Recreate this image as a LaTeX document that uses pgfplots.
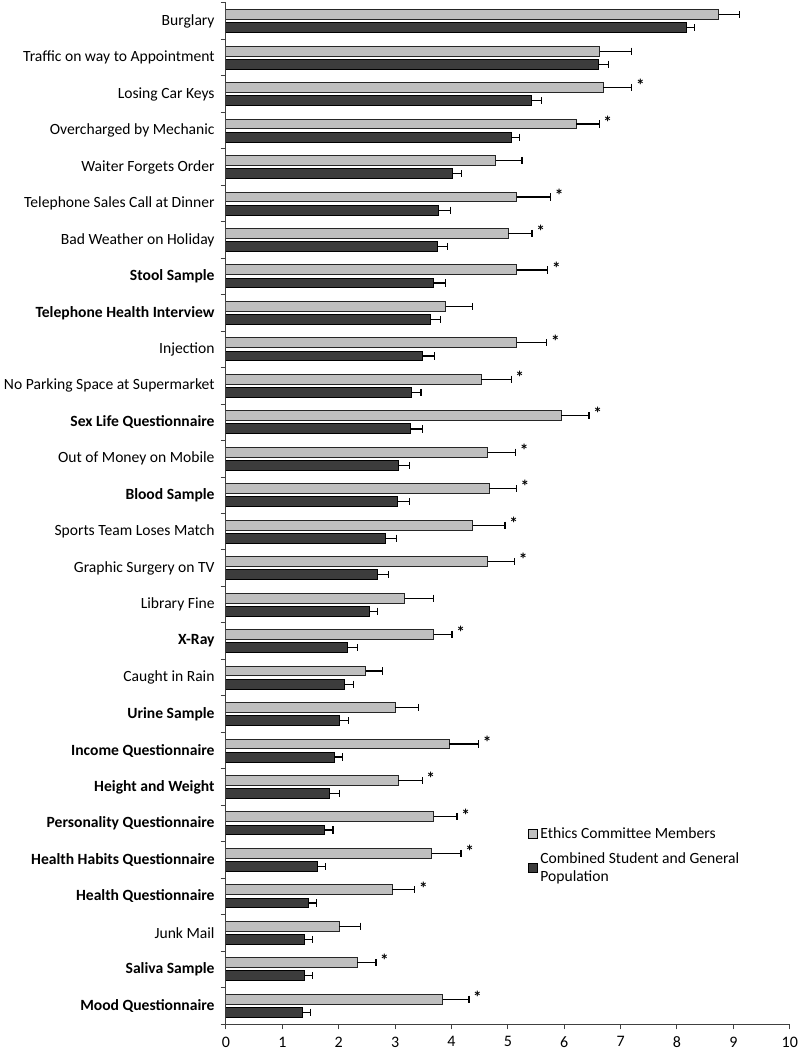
\documentclass[border=0pt]{standalone}
\usepackage{pgfplots}
\usepackage{pgfplotstable}
\usepackage{fontspec}
\setmainfont{Carlito}
\pgfplotsset{compat=1.18}

\definecolor{ethics}{HTML}{BFBFBF}
\definecolor{public}{HTML}{3C3C3C}
\definecolor{axisgray}{HTML}{404040}

% y: 0 = bottom category (Mood Questionnaire), 27 = Burglary
% s = 1 where an asterisk is printed
\pgfplotstableread{
y light lerr s dark derr
27 8.74 0.37 0 8.17 0.14
26 6.63 0.56 0 6.60 0.19
25 6.69 0.51 1 5.42 0.17
24 6.21 0.41 1 5.06 0.14
23 4.79 0.46 0 4.01 0.17
22 5.16 0.60 1 3.77 0.21
21 5.01 0.42 1 3.75 0.18
20 5.16 0.55 1 3.68 0.21
19 3.90 0.48 0 3.63 0.18
18 5.16 0.53 1 3.49 0.21
17 4.53 0.53 1 3.29 0.17
16 5.95 0.49 1 3.27 0.21
15 4.64 0.50 1 3.06 0.20
14 4.67 0.48 1 3.04 0.22
13 4.38 0.57 1 2.83 0.19
12 4.64 0.48 1 2.68 0.21
11 3.17 0.51 0 2.54 0.15
10 3.69 0.32 1 2.16 0.17
9  2.48 0.29 0 2.11 0.15
8  3.00 0.41 0 2.02 0.16
7  3.96 0.52 1 1.93 0.14
6  3.06 0.42 1 1.84 0.17
5  3.69 0.41 1 1.74 0.16
4  3.65 0.52 1 1.62 0.14
3  2.95 0.40 1 1.47 0.13
2  2.01 0.38 0 1.40 0.14
1  2.33 0.33 1 1.40 0.13
0  3.85 0.46 1 1.36 0.14
}\data

\newcommand\lbl{\fontsize{11.7}{14}\selectfont}

\begin{document}
\begin{tikzpicture}
\begin{axis}[
    name=ax,
    scale only axis,
    width=423pt, height=766pt,
    xmin=0, xmax=10, ymin=-0.5, ymax=27.5,
    axis x line*=bottom, axis y line*=left,
    axis line style={-, axisgray, line width=0.75pt},
    tick align=outside,
    tick style={axisgray, line width=0.75pt},
    major tick length=4pt,
    xtick={0,1,...,10},
    ytick={-0.5,0.5,...,27.5},
    yticklabels={},
    extra y ticks={0,1,...,27},
    extra y tick labels={
        \textbf{Mood Questionnaire}, \textbf{Saliva Sample}, Junk Mail,
        \textbf{Health Questionnaire}, \textbf{Health Habits Questionnaire},
        \textbf{Personality Questionnaire}, \textbf{Height and Weight},
        \textbf{Income Questionnaire}, \textbf{Urine Sample}, Caught in Rain,
        \textbf{X-Ray}, Library Fine, Graphic Surgery on TV,
        Sports Team Loses Match, \textbf{Blood Sample}, Out of Money on Mobile,
        \textbf{Sex Life Questionnaire}, No Parking Space at Supermarket,
        Injection, \textbf{Telephone Health Interview}, \textbf{Stool Sample},
        Bad Weather on Holiday, Telephone Sales Call at Dinner,
        Waiter Forgets Order, Overcharged by Mechanic, Losing Car Keys,
        Traffic on way to Appointment, Burglary},
    extra y tick style={major tick length=0pt, yticklabel style={xshift=-5pt}},
    ticklabel style={font=\lbl, text=black},
    xticklabel style={yshift=-2pt, font=\fontsize{12}{14}\selectfont},
    /pgf/number format/assume math mode=true,
    legend style={at={(0.528,0.198)}, anchor=north west, draw=none, fill=none,
        font=\lbl, row sep=5pt, cells={anchor=west, align=left}},
    legend image code/.code={\draw[#1, draw=black, line width=0.6pt]
        (0pt,-3.4pt) rectangle (6.8pt,3.4pt);},
]
\addplot[xbar, bar width=0.27, bar shift=0pt, fill=ethics, draw=black!85, line width=0.75pt,
    error bars/.cd, x dir=plus, x explicit, error mark=|,
    error bar style={black, line width=0.9pt},
    error mark options={black, line width=0.9pt, mark size=2.7pt}]
    table[x=light, y expr=\thisrow{y}+0.18, x error=lerr] {\data};
\addplot[xbar, bar width=0.27, bar shift=0pt, fill=public, draw=black, line width=0.75pt,
    error bars/.cd, x dir=plus, x explicit, error mark=|,
    error bar style={black, line width=0.9pt},
    error mark options={black, line width=0.9pt, mark size=2.7pt}]
    table[x=dark, y expr=\thisrow{y}-0.18, x error=derr] {\data};
\addplot[draw=none, mark=none, forget plot,
    nodes near coords={\textbf{*}},
    every node near coord/.append style={anchor=west, font=\fontsize{13}{14}\selectfont,
        inner sep=1pt, yshift=1.5pt, xshift=2pt},
    restrict expr to domain={\thisrow{s}}{1:1}]
    table[x expr=\thisrow{light}+\thisrow{lerr}, y expr=\thisrow{y}+0.18] {\data};
\legend{Ethics Committee Members, {Combined Student and General\\Population}}
\end{axis}
\pgfresetboundingbox
\path (ax.south west) ++(-169.5pt,-21.75pt) coordinate (bl);
\path (ax.north east) ++(7.5pt,2.25pt) coordinate (tr);
\path (bl) rectangle (tr);
\end{tikzpicture}
\end{document}
